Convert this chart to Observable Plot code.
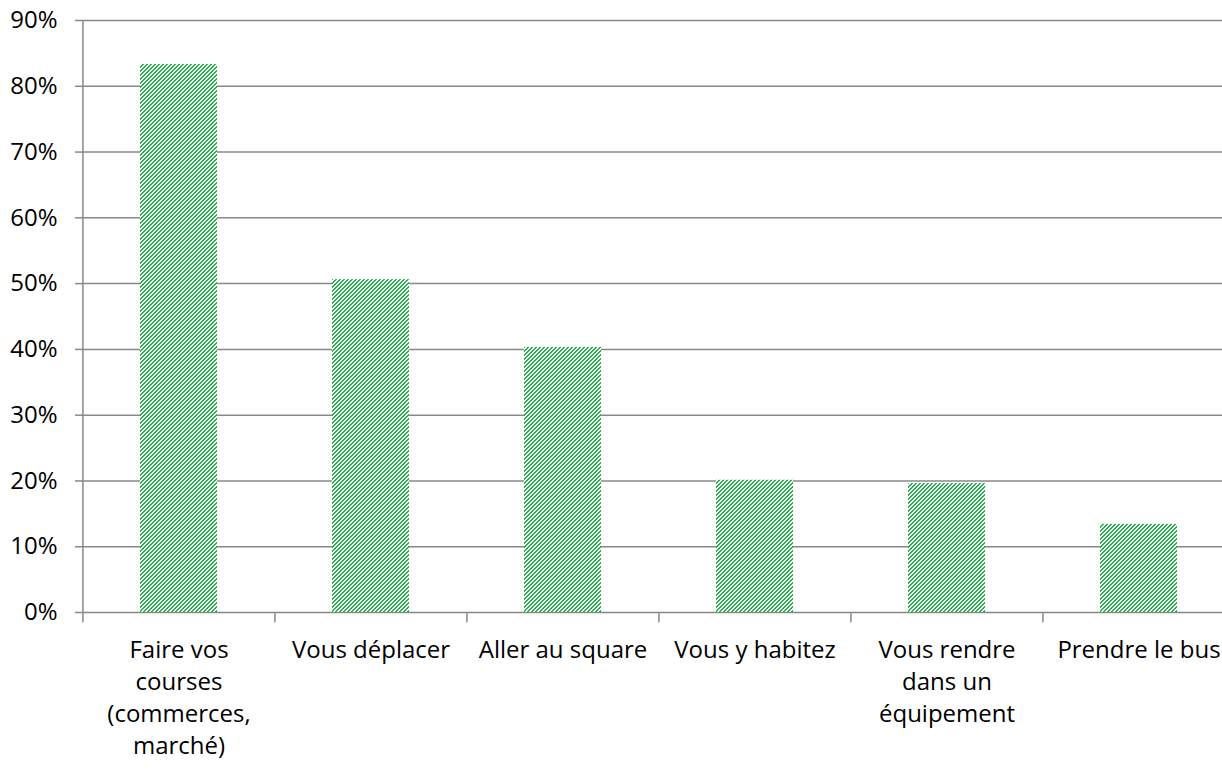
<!DOCTYPE html>
<html>
<head>
<meta charset="utf-8">
<script src="https://cdn.jsdelivr.net/npm/d3@7"></script>
<script src="https://cdn.jsdelivr.net/npm/@observablehq/plot@0.6"></script>
<style>
  html, body { margin: 0; padding: 0; background: #fff; }
  #chart { width: 1222px; height: 770px; overflow: hidden; }
</style>
</head>
<body>
<div id="chart"></div>
<script>
const categories = [
  "Faire vos courses (commerces, marché)",
  "Vous déplacer",
  "Aller au square",
  "Vous y habitez",
  "Vous rendre dans un équipement",
  "Prendre le bus"
];
const labels = [
  "Faire vos\ncourses\n(commerces,\nmarché)",
  "Vous déplacer",
  "Aller au square",
  "Vous y habitez",
  "Vous rendre\ndans un\néquipement",
  "Prendre le bus"
];
const values = [0.833, 0.506, 0.403, 0.201, 0.196, 0.134];
const yTicks = [0, 0.1, 0.2, 0.3, 0.4, 0.5, 0.6, 0.7, 0.8, 0.9];

const data = categories.map((c, i) => ({category: c, label: labels[i], value: values[i], i}));

const W = 1222, H = 770;
const mL = 82, mT = 20, mB = 158;
const xRange = [82, 1235];
const step = (xRange[1] - xRange[0]) / categories.length;
const grey = "#888888";
const font = "Open Sans, Lato, sans-serif";

const chart = Plot.plot({
  width: W,
  height: H,
  marginLeft: mL,
  marginRight: 0,
  marginTop: mT,
  marginBottom: mB,
  style: {fontFamily: font, background: "#fff", overflow: "visible"},
  x: {domain: categories, range: xRange, paddingInner: 0.6, paddingOuter: 0.3, axis: null},
  y: {domain: [0, 0.9], axis: null},
  marks: [
    Plot.ruleY(yTicks, {y: d => d, stroke: grey, strokeWidth: 1.5}),
    Plot.ruleY(yTicks, {y: d => d, stroke: grey, strokeWidth: 1.5,
      insetLeft: -7, insetRight: W - mL}),
    Plot.text(yTicks, {y: d => d, frameAnchor: "left", text: d3.format(".0%"), textAnchor: "end",
      dx: -25, fontSize: 24, fill: "#000"}),
    Plot.ruleX(data, {x: "category", dx: -step / 2, y1: d => d.i === 0 ? 0.9 : 0, y2: -0.016,
      stroke: grey, strokeWidth: 1.5}),
    Plot.barY(data, {x: "category", y: "value", fill: "url(#stripes)"}),
    Plot.text(data, {x: "category", y: 0, text: "label", lineAnchor: "top", dy: 23,
      fontSize: 24, lineHeight: 32 / 24, fill: "#000", textAnchor: "middle"})
  ]
});

// stripe pattern definition
const svgNS = "http://www.w3.org/2000/svg";
const defs = document.createElementNS(svgNS, "defs");
const pat = document.createElementNS(svgNS, "pattern");
pat.setAttribute("id", "stripes");
pat.setAttribute("patternUnits", "userSpaceOnUse");
pat.setAttribute("width", "4");
pat.setAttribute("height", "4");
const bg = document.createElementNS(svgNS, "rect");
bg.setAttribute("width", "4"); bg.setAttribute("height", "4"); bg.setAttribute("fill", "#ffffff");
pat.appendChild(bg);
const p = document.createElementNS(svgNS, "path");
p.setAttribute("d", "M2,0h2v1h-2z M1,1h2v1h-2z M0,2h2v1h-2z M3,3h1v1h-1z M0,3h1v1h-1z");
p.setAttribute("fill", "#22b24c");
p.setAttribute("shape-rendering", "crispEdges");
pat.appendChild(p);
defs.appendChild(pat);
chart.insertBefore(defs, chart.firstChild);

document.getElementById("chart").appendChild(chart);
</script>
</body>
</html>
